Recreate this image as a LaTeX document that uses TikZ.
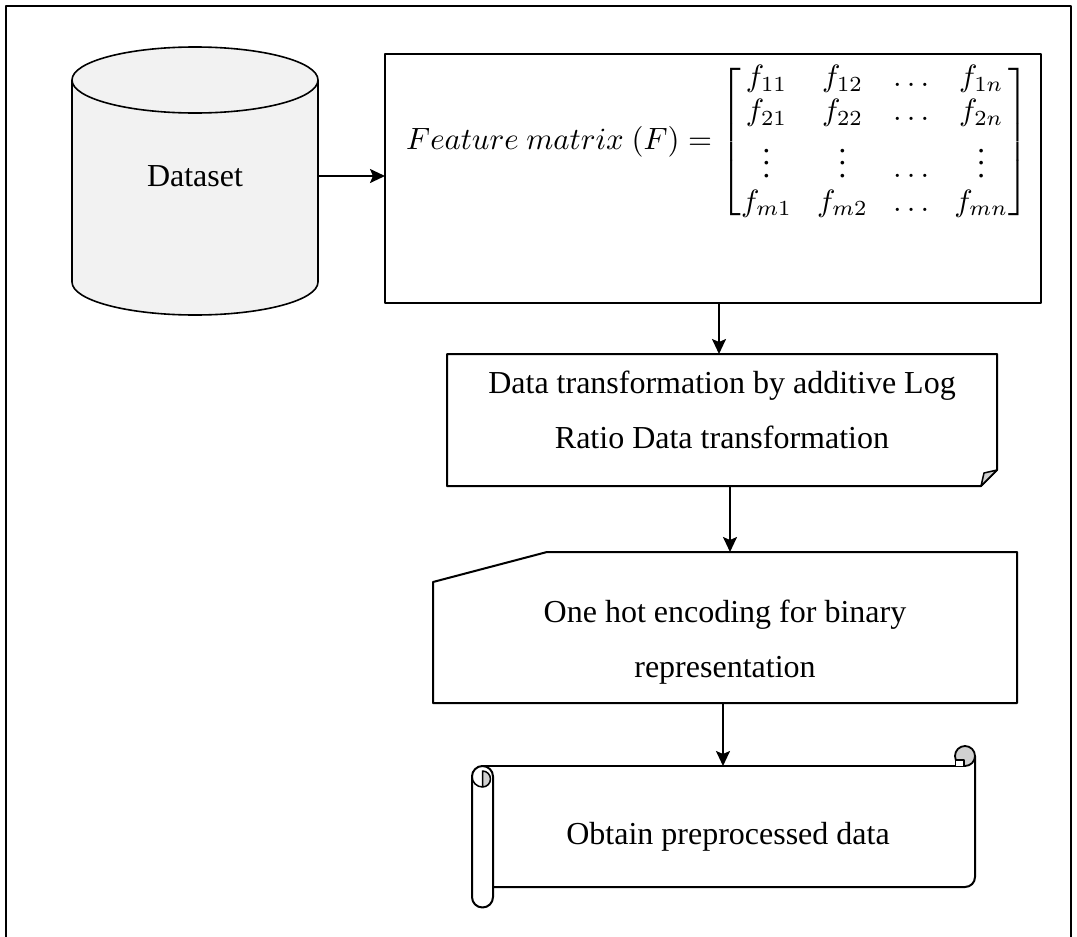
\documentclass[tikz,border=0pt]{standalone}
\usepackage{amsmath}
\usepackage{graphicx}
\usepackage{fontspec}
\setmainfont{Liberation Serif}
\usetikzlibrary{arrows.meta}
\definecolor{cylfill}{HTML}{F2F2F2}
\definecolor{curlgray}{HTML}{D0D0D0}
\begin{document}
\begin{tikzpicture}[x=1pt,y=-1pt,line join=round,
  box/.style={draw,line width=2pt},
  arr/.style={line width=2pt,-{Stealth[length=15pt,width=14pt,inset=3pt]}},
  txt/.style={font=\fontsize{32}{55}\selectfont,align=center,inner sep=0pt},
  hid/.style={inner sep=0pt,outer sep=0pt}]
\useasboundingbox (0,0) rectangle (1077,937);
% outer frame
\draw[line width=2.8pt] (6,937) -- (6,6) -- (1071,6) -- (1071,937);

% cylinder (Dataset)
\node[hid,minimum width=246pt,minimum height=268pt] (ds) at (195,181) {};
\draw[line width=1.6pt,fill=cylfill] (72,80) -- (72,282)
  arc[start angle=180,end angle=0,x radius=123,y radius=33] -- (318,80)
  arc[start angle=0,end angle=-180,x radius=123,y radius=33] -- cycle;
\draw[line width=1.6pt] (72,80) arc[start angle=180,end angle=0,x radius=123,y radius=33];
\node[txt] (dslabel) at (195,176) {Dataset};

% feature matrix box
\node[box,hid,minimum width=656pt,minimum height=249pt] (fm) at (713,178.5) {};
\node[anchor=west,inner sep=0pt] (eq) at (406,142)
  {\scalebox{3.08}{\setlength{\arraycolsep}{4.1pt}\renewcommand{\arraystretch}{0.92}$Feature\ matrix\ (F)=\begin{bmatrix}
   f_{11} & f_{12} & \ldots & f_{1n}\\
   f_{21} & f_{22} & \ldots & f_{2n}\\
   \vdots & \vdots & \ldots & \vdots\\
   f_{m1} & f_{m2} & \ldots & f_{mn}
  \end{bmatrix}$}};

% data transformation box (document with folded corner)
\node[hid,minimum width=550pt,minimum height=132pt] (dt) at (722,420) {};
\draw[box,fill=white] (dt.north west) -- (dt.north east) -- ([yshift=16pt]dt.south east)
  -- ([xshift=-16pt]dt.south east) -- (dt.south west) -- cycle;
\draw[line width=1.5pt,fill=curlgray] ([yshift=16pt]dt.south east)
  -- ([xshift=-13pt,yshift=13pt]dt.south east) -- ([xshift=-16pt]dt.south east) -- cycle;
\node[txt] (dttext) at (722,410) {Data transformation by additive Log\\Ratio Data transformation};

% one hot encoding box (manual input)
\node[hid,minimum width=584pt,minimum height=151pt] (oh) at (725,627.5) {};
\draw[box,fill=white] (oh.south west) -- ([yshift=-30pt]oh.north west)
  -- ([xshift=114pt]oh.north west) -- (oh.north east) -- (oh.south east) -- cycle;
\node[txt] (ohtext) at (725,642) {One hot encoding for binary\\representation};

% scroll
\node[hid,minimum width=504pt,minimum height=121pt] (sc) at (723,826.5) {};
\fill[white] (493,766) rectangle (975,887);
\draw[line width=2pt] (482.5,766) -- (965,766);
\draw[line width=2pt,rounded corners=10pt] (975,756) -- (975,887) -- (493,887);
\draw[line width=1.8pt,fill=curlgray] (965,756) circle[radius=10];
\draw[line width=1.4pt,fill=white] (955.5,766) -- (955.5,760) -- (964,760) -- (964,766);
\draw[line width=2pt,fill=white] (472,897) -- (472,776.5)
  arc[start angle=180,end angle=360,radius=10.5] -- (493,897)
  arc[start angle=0,end angle=180,radius=10.5] -- cycle;
\draw[line width=1.5pt] (472,776.5) arc[start angle=180,end angle=90,radius=10.5];
\draw[line width=1.5pt,fill=curlgray] (482.5,771)
  arc[start angle=-90,end angle=90,radius=8] -- cycle;
\node[txt] (sctext) at (728,837) {Obtain preprocessed data};

% connectors
\draw[arr] (dslabel -| ds.east) -- (dslabel -| fm.west);
\draw[arr] ([xshift=-3pt]fm.south -| dt.north) -- ([xshift=-3pt]dt.north);
\draw[arr] ([xshift=5pt]dt.south -| oh.north) -- ([xshift=5pt]oh.north);
\draw[arr] (oh.south -| sc.north) -- (sc.north);
\end{tikzpicture}
\end{document}
